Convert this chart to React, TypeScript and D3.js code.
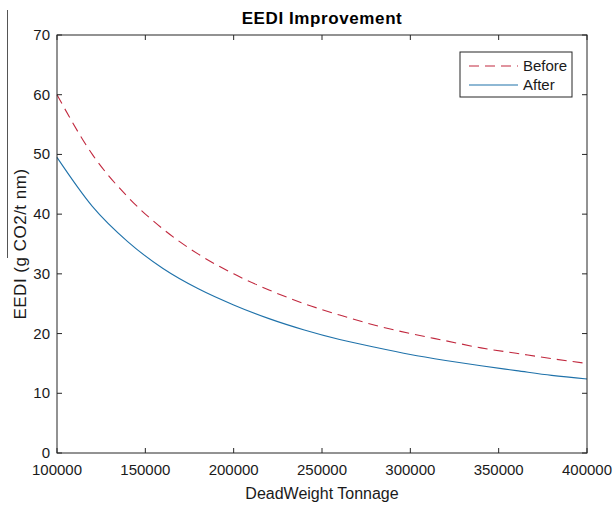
import React from "react";
import * as d3 from "d3";

// deadweight tonnage sampled along x
const tonnage = [
  100000, 120000, 140000, 160000, 180000, 200000, 220000, 240000,
  260000, 280000, 300000, 320000, 340000, 360000, 380000, 400000,
];
// EEDI values
const before = [60, 50, 42.9, 37.5, 33.3, 30, 27.3, 25, 23.1, 21.4, 20, 18.8, 17.6, 16.7, 15.8, 15];
const after = [49.5, 41.3, 35.4, 30.9, 27.5, 24.8, 22.5, 20.6, 19, 17.7, 16.5, 15.5, 14.6, 13.8, 13, 12.4];

const xTicks = [100000, 150000, 200000, 250000, 300000, 350000, 400000];
const yTicks = [0, 10, 20, 30, 40, 50, 60, 70];

const W = 616;
const H = 507;
const margin = { top: 35, right: 29, bottom: 54, left: 57 };
const font = "'Liberation Sans', Arial, sans-serif";
const axisColor = "#262626";

export default function App() {
  const width = W - margin.left - margin.right;
  const height = H - margin.top - margin.bottom;

  const x = d3.scaleLinear().domain([100000, 400000]).range([0, width]);
  const y = d3.scaleLinear().domain([0, 70]).range([height, 0]);

  const line = d3
    .line<number>()
    .x((_, i) => x(tonnage[i]))
    .y((d) => y(d))
    .curve(d3.curveMonotoneX);

  const tickLen = 5;

  return (
    <svg
      width={W}
      height={H}
      style={{ position: "absolute", left: 0, top: 0, background: "#fff" }}
      fontFamily={font}
    >
      {/* stray line at the left edge */}
      <line x1={7.5} x2={7.5} y1={10} y2={258} stroke="#555" strokeWidth={1} />

      <text
        x={margin.left + width / 2}
        y={24}
        textAnchor="middle"
        fontSize={17}
        fontWeight="bold"
        letterSpacing={0.6}
        fill="#000"
      >
        EEDI Improvement
      </text>

      <g transform={`translate(${margin.left},${margin.top})`}>
        <path d={line(before) || ""} fill="none" stroke="#c1283e" strokeWidth={1.1} strokeDasharray="10,6" />
        <path d={line(after) || ""} fill="none" stroke="#1f72aa" strokeWidth={1.1} />

        {/* box */}
        <rect x={0} y={0} width={width} height={height} fill="none" stroke={axisColor} strokeWidth={1} />

        {xTicks.map((t) => (
          <g key={"x" + t}>
            <line x1={x(t)} x2={x(t)} y1={height} y2={height - tickLen} stroke={axisColor} />
            <line x1={x(t)} x2={x(t)} y1={0} y2={tickLen} stroke={axisColor} />
            <text x={x(t)} y={height + 22} textAnchor="middle" fontSize={15} fill="#1a1a1a">
              {t}
            </text>
          </g>
        ))}

        {yTicks.map((t) => (
          <g key={"y" + t}>
            <line x1={0} x2={tickLen} y1={y(t)} y2={y(t)} stroke={axisColor} />
            <line x1={width} x2={width - tickLen} y1={y(t)} y2={y(t)} stroke={axisColor} />
            <text x={-7} y={y(t) + 5} textAnchor="end" fontSize={15} fill="#1a1a1a">
              {t}
            </text>
          </g>
        ))}

        <text
          x={width / 2}
          y={height + 46}
          textAnchor="middle"
          fontSize={16}
          fill="#1a1a1a"
        >
          DeadWeight Tonnage
        </text>

        <text
          transform={`translate(${-31},${height / 2}) rotate(-90)`}
          textAnchor="middle"
          fontSize={17}
          letterSpacing={0.5}
          fill="#1a1a1a"
        >
          EEDI (g CO2/t nm)
        </text>

        {/* legend */}
        <g transform={`translate(${403},${17})`}>
          <rect x={0} y={0} width={112} height={45} fill="#fff" stroke={axisColor} strokeWidth={1} />
          <line x1={9} x2={58} y1={14} y2={14} stroke="#c1283e" strokeWidth={1.1} strokeDasharray="10,6" />
          <line x1={9} x2={58} y1={33} y2={33} stroke="#1f72aa" strokeWidth={1.1} />
          <text x={63} y={19} fontSize={15} fill="#1a1a1a">Before</text>
          <text x={63} y={38} fontSize={15} fill="#1a1a1a">After</text>
        </g>
      </g>
    </svg>
  );
}
